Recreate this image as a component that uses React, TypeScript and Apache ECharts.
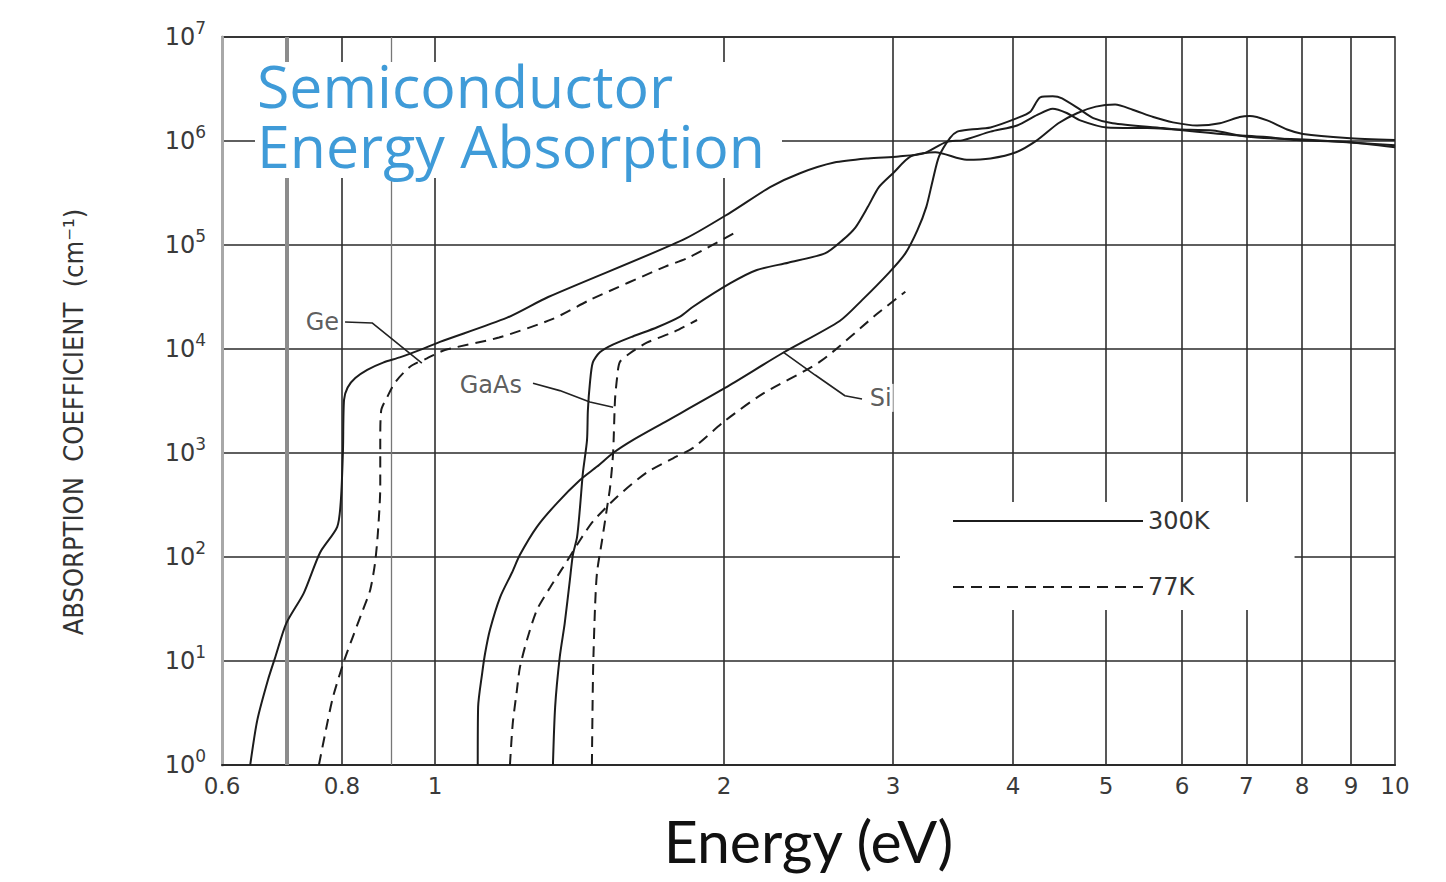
import { useEffect, useRef } from "react";
import * as echarts from "echarts";

// ---- axis ticks ----
const xLabelValues = [0.6, 0.8, 1, 2, 3, 4, 5, 6, 7, 8, 9, 10];
const xGridValues = [0.7, 0.8, 0.9, 1, 2, 3, 4, 5, 6, 7, 8, 9];

// ---- Ge ----
const geE300 = [0.642, 0.653, 0.670, 0.682, 0.700, 0.730, 0.759, 0.791, 0.798, 0.802, 0.804, 0.811, 0.826, 0.850, 0.883, 0.919, 0.965, 1.012, 1.189, 1.312, 1.812, 2.029, 2.234, 2.40, 2.605, 2.825, 3.04, 3.23, 3.41, 3.55, 3.79, 4.04, 4.24, 4.40, 4.55, 4.70, 5.01, 5.52, 5.97, 6.46, 7.01, 8.21, 10];
const geA300 = [1, 2.7, 6.6, 11, 23, 45, 110, 195, 355, 1070, 3240, 4270, 5250, 6300, 7400, 8300, 9800, 11700, 20000, 31600, 112000, 204000, 360000, 490000, 620000, 680000, 710000, 760000, 980000, 1020000, 1230000, 1410000, 1780000, 2040000, 1860000, 1580000, 1350000, 1330000, 1290000, 1260000, 1100000, 1020000, 910000];
const geE77 = [0.757, 0.770, 0.783, 0.804, 0.821, 0.839, 0.856, 0.866, 0.872, 0.877, 0.877, 0.879, 0.892, 0.909, 0.942, 0.981, 1.024, 1.166, 1.327, 1.454, 1.737, 1.839, 2.074];
const geA77 = [1, 2.2, 4.5, 10, 17, 29, 48, 87, 170, 470, 1330, 2570, 3470, 4790, 6760, 8130, 9770, 12900, 19500, 30000, 62000, 76000, 138000];

// ---- GaAs ----
const gaasE300 = [1.327, 1.334, 1.349, 1.365, 1.382, 1.392, 1.406, 1.416, 1.426, 1.440, 1.443, 1.450, 1.460, 1.485, 1.532, 1.607, 1.704, 1.80, 1.857, 2.029, 2.164, 2.333, 2.548, 2.66, 2.742, 2.825, 2.90, 3.0, 3.13, 3.32, 3.58, 3.79, 4.03, 4.24, 4.46, 4.67, 4.88, 5.11, 5.33, 5.60, 5.87, 6.22, 6.57, 6.89, 7.06, 7.36, 7.72, 8.02, 8.91, 10];
const gaasA300 = [1, 3.6, 11, 23, 60, 105, 155, 300, 650, 1330, 2570, 4680, 7400, 9300, 11000, 13200, 16200, 20500, 25500, 42700, 57500, 67600, 83000, 112000, 148000, 234000, 360000, 490000, 710000, 780000, 660000, 680000, 780000, 1020000, 1480000, 1860000, 2140000, 2240000, 2000000, 1700000, 1510000, 1410000, 1480000, 1700000, 1740000, 1580000, 1290000, 1170000, 1070000, 1020000];
const gaasE77 = [1.457, 1.461, 1.468, 1.475, 1.493, 1.511, 1.522, 1.533, 1.540, 1.548, 1.558, 1.596, 1.662, 1.770, 1.875];
const gaasA77 = [1, 7.7, 33, 71, 145, 300, 470, 1000, 3240, 5370, 7500, 9100, 11500, 14500, 19000];

// ---- Si ----
const siE300 = [1.108, 1.109, 1.120, 1.128, 1.141, 1.169, 1.203, 1.226, 1.277, 1.340, 1.416, 1.475, 1.533, 1.607, 1.745, 2.005, 2.30, 2.64, 2.785, 2.97, 3.09, 3.18, 3.25, 3.30, 3.35, 3.44, 3.50, 3.61, 3.79, 4.04, 4.17, 4.27, 4.40, 4.50, 4.70, 4.85, 5.08, 5.73, 6.22, 6.73, 7.29, 7.90, 8.91, 10];
const siA300 = [1, 3.6, 7.7, 12, 20, 41, 71, 105, 195, 330, 550, 740, 1000, 1330, 2040, 4220, 9100, 18600, 29500, 54000, 83000, 138000, 234000, 420000, 710000, 1070000, 1230000, 1290000, 1350000, 1660000, 1910000, 2630000, 2690000, 2570000, 2000000, 1660000, 1480000, 1330000, 1230000, 1150000, 1100000, 1020000, 980000, 870000];
const siE77 = [1.197, 1.205, 1.217, 1.226, 1.247, 1.277, 1.318, 1.359, 1.416, 1.461, 1.548, 1.662, 1.770, 1.857, 2.005, 2.196, 2.52, 2.89, 3.09];
const siA77 = [1, 2.5, 5.2, 8.7, 16, 31, 51, 79, 145, 220, 380, 650, 890, 1120, 2040, 3720, 7600, 21900, 35500];

// ---- annotations (energy, alpha) ----
const geLeaderE = [0.806, 0.860, 0.969];
const geLeaderA = [18200, 17800, 7330];
const gaasLeaderE = [1.265, 1.349, 1.450, 1.533];
const gaasLeaderA = [4680, 3980, 3090, 2750];
const siLeaderE = [2.305, 2.489, 2.673, 2.785];
const siLeaderA = [9330, 5620, 3550, 3310];
const labelNames = ["Ge", "GaAs", "Si"];
const labelE = [0.806, 1.250, 2.796];
const labelA = [18200, 4500, 3390];

const INK = "#1c1c1c";
const TICK_FONT = "'DejaVu Sans', sans-serif";

export default function App() {
  const ref = useRef<HTMLDivElement>(null);

  useEffect(() => {
    const chart = echarts.init(ref.current!, null, { renderer: "svg" });
    const pair = (xs: number[], ys: number[]) => xs.map((x, i) => [x, ys[i]]);
    const curve = (name: string, xs: number[], ys: number[], dashed: boolean) => ({
      name,
      type: "line",
      data: pair(xs, ys),
      symbol: "none",
      smooth: 0.25,
      z: 3,
      silent: true,
      lineStyle: { color: INK, width: 2, type: dashed ? [11, 7] : "solid" },
    });
    const leader = (name: string, xs: number[], ys: number[]) => ({
      name,
      type: "line",
      data: pair(xs, ys),
      symbol: "none",
      z: 3,
      silent: true,
      lineStyle: { color: "#222", width: 1.6 },
    });
    const gridStyle = (v: number) => {
      if (v === 0.7) return { color: "#8c8c8c", width: 4, type: "solid" };
      if (v === 0.9) return { color: "#777", width: 1.3, type: "solid" };
      return { color: "#2e2e2e", width: 1.6, type: "solid" };
    };

    const option: any = {
      animation: false,
      backgroundColor: "#fff",
      title: {
        text: "Semiconductor\nEnergy Absorption",
        left: 257,
        top: 55,
        padding: 0,
        z: 10,
        textStyle: {
          fontFamily: "'Open Sans', Lato, sans-serif",
          fontSize: 59,
          fontWeight: "normal",
          color: "#3f9bd8",
          lineHeight: 60,
        },
      },
      grid: {
        left: 222,
        right: 51,
        top: 37,
        bottom: 117,
        show: true,
        borderColor: "#2a2a2a",
        borderWidth: 1.5,
        backgroundColor: "transparent",
      },
      legend: {
        data: ["300K", "77K"],
        orient: "vertical",
        left: 900,
        top: 502,
        itemWidth: 190,
        itemHeight: 24,
        itemGap: 42,
        padding: [7, 85, 11, 52],
        backgroundColor: "#fff",
        selectedMode: false,
        z: 6,
        textStyle: { fontFamily: TICK_FONT, fontSize: 24, color: "#333" },
      },
      xAxis: {
        type: "log",
        logBase: 10,
        min: 0.6,
        max: 10,
        name: "Energy (eV)",
        nameLocation: "middle",
        nameGap: 46,
        nameTextStyle: { fontFamily: "Lato, sans-serif", fontSize: 59, color: "#111" },
        axisLine: { show: true, lineStyle: { color: "#2a2a2a", width: 2 } },
        axisTick: { show: false },
        splitLine: { show: false },
        axisLabel: {
          customValues: xLabelValues,
          margin: 9,
          fontFamily: TICK_FONT,
          fontSize: 23,
          color: "#3a3a3a",
          formatter: (v: number) => (v < 1 ? v.toFixed(1) : String(Math.round(v))),
        },
      },
      yAxis: {
        type: "log",
        logBase: 10,
        min: 1,
        max: 1e7,
        splitNumber: 7,
        name: "ABSORPTION  COEFFICIENT  (cm⁻¹)",
        nameLocation: "middle",
        nameRotate: 90,
        nameGap: 135,
        nameTextStyle: {
          fontFamily: "'Liberation Sans Narrow', 'DejaVu Sans Condensed', sans-serif",
          fontSize: 27,
          color: "#333",
          padding: [0, 42, 0, 0],
        },
        axisLine: { show: true, lineStyle: { color: "#a8a8a8", width: 3 } },
        axisTick: { show: false },
        splitLine: { show: true, lineStyle: { color: "#2a2a2a", width: 1.5 } },
        axisLabel: {
          margin: 16,
          formatter: (v: number) => `{b|10}{s|${Math.round(Math.log10(v))}}`,
          rich: {
            b: { fontFamily: TICK_FONT, fontSize: 24, color: "#3a3a3a", lineHeight: 36, verticalAlign: "middle" },
            s: { fontFamily: TICK_FONT, fontSize: 17, color: "#3a3a3a", lineHeight: 36, verticalAlign: "top" },
          },
        },
      },
      graphic: [
        {
          type: "rect",
          shape: { x: 255, y: 62, width: 527, height: 116 },
          style: { fill: "#fff" },
          z: 5,
          silent: true,
        },
      ],
      series: [
        {
          name: "gridlines",
          type: "line",
          data: [],
          z: 1,
          silent: true,
          markLine: {
            silent: true,
            z: 1,
            symbol: ["none", "none"],
            label: { show: false },
            animation: false,
            data: xGridValues.map((v) => ({ xAxis: v, lineStyle: gridStyle(v) })),
          },
        },
        curve("Ge 300K", geE300, geA300, false),
        curve("Ge 77K", geE77, geA77, true),
        curve("GaAs 300K", gaasE300, gaasA300, false),
        curve("GaAs 77K", gaasE77, gaasA77, true),
        curve("Si 300K", siE300, siA300, false),
        curve("Si 77K", siE77, siA77, true),
        leader("Ge leader", geLeaderE, geLeaderA),
        leader("GaAs leader", gaasLeaderE, gaasLeaderA),
        leader("Si leader", siLeaderE, siLeaderA),
        {
          name: "labels",
          type: "scatter",
          symbolSize: 0.1,
          z: 6,
          silent: true,
          itemStyle: { color: "transparent" },
          data: labelNames.map((n, i) => ({
            name: n,
            value: [labelE[i], labelA[i]],
            label: {
              show: true,
              formatter: n,
              position: i === 2 ? "right" : "left",
              distance: 4,
              fontFamily: TICK_FONT,
              fontSize: 24,
              color: "#333",
              backgroundColor: "#fff",
              padding: [2, 2, 2, 2],
            },
          })),
        },
        {
          name: "300K",
          type: "line",
          data: [],
          symbol: "none",
          lineStyle: { color: INK, width: 2, type: "solid" },
          itemStyle: { color: "transparent", opacity: 0 },
        },
        {
          name: "77K",
          type: "line",
          data: [],
          symbol: "none",
          lineStyle: { color: INK, width: 2, type: [11, 7] },
          itemStyle: { color: "transparent", opacity: 0 },
        },
      ],
    };
    chart.setOption(option);
    return () => chart.dispose();
  }, []);

  return (
    <div
      ref={ref}
      style={{ position: "fixed", left: 0, top: 0, width: 1446, height: 882 }}
    />
  );
}
